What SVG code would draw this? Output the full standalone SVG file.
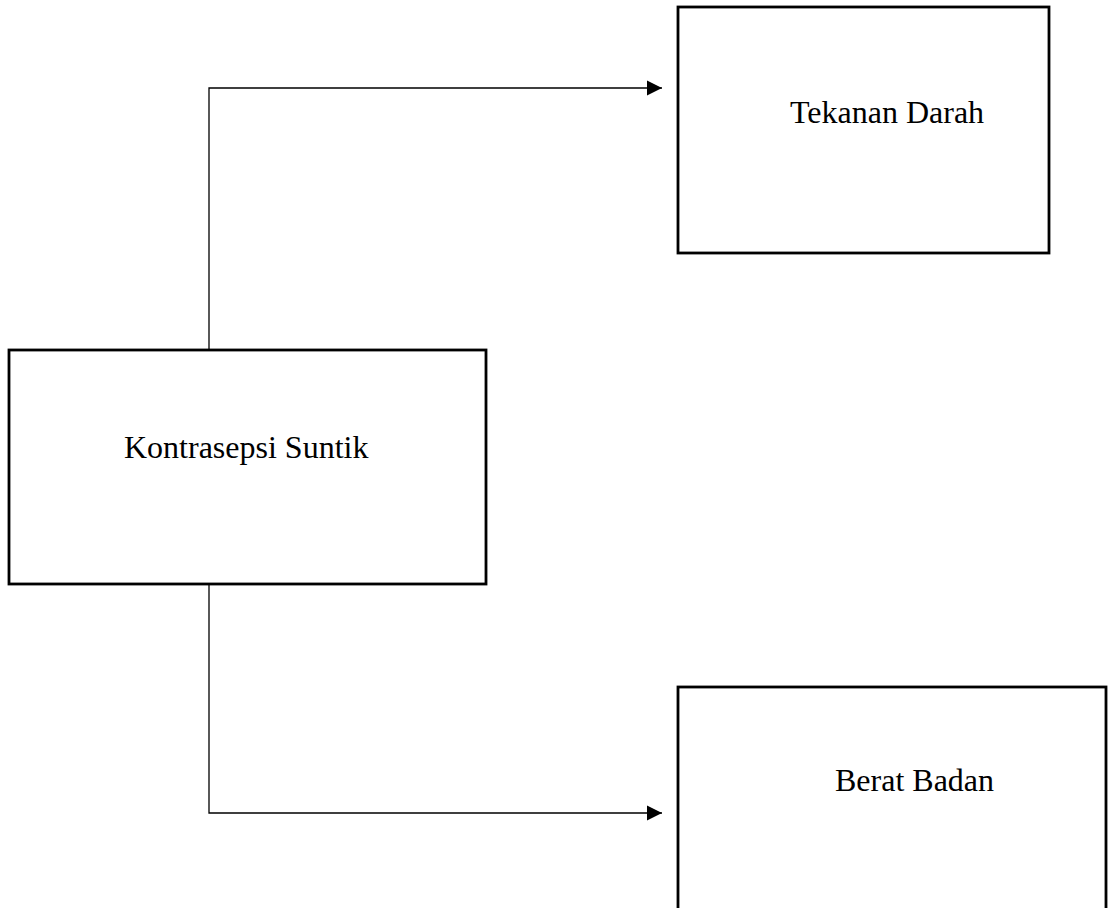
<svg xmlns="http://www.w3.org/2000/svg" width="1109" height="908" viewBox="0 0 1109 908">
<style>
.box{fill:#fff;stroke:#000;stroke-width:2.8}
.lbl{font-family:"Liberation Serif","Times New Roman",serif;font-size:32px;fill:#000}
.con{fill:none;stroke:#000;stroke-width:1.3}
</style>
<defs>
<marker id="ah" markerWidth="16" markerHeight="16" refX="15" refY="8" orient="auto" markerUnits="userSpaceOnUse">
<path d="M0,0.5 L15,8 L0,15.5 Z" fill="#000"/>
</marker>
</defs>
<rect width="1109" height="908" fill="#fff"/>
<g id="connectors">
<polyline class="con" points="209,350 209,88 662,88" marker-end="url(#ah)"/>
<polyline class="con" points="209,584 209,813 662,813" marker-end="url(#ah)"/>
</g>
<g id="node-tekanan">
<rect class="box" x="678" y="7" width="371" height="246"/>
<text class="lbl" x="790" y="123">Tekanan Darah</text>
</g>
<g id="node-kontrasepsi">
<rect class="box" x="9" y="350" width="477" height="234"/>
<text class="lbl" x="124" y="458">Kontrasepsi Suntik</text>
</g>
<g id="node-berat">
<rect class="box" x="678" y="687" width="428" height="240"/>
<text class="lbl" x="835" y="791">Berat Badan</text>
</g>
</svg>
